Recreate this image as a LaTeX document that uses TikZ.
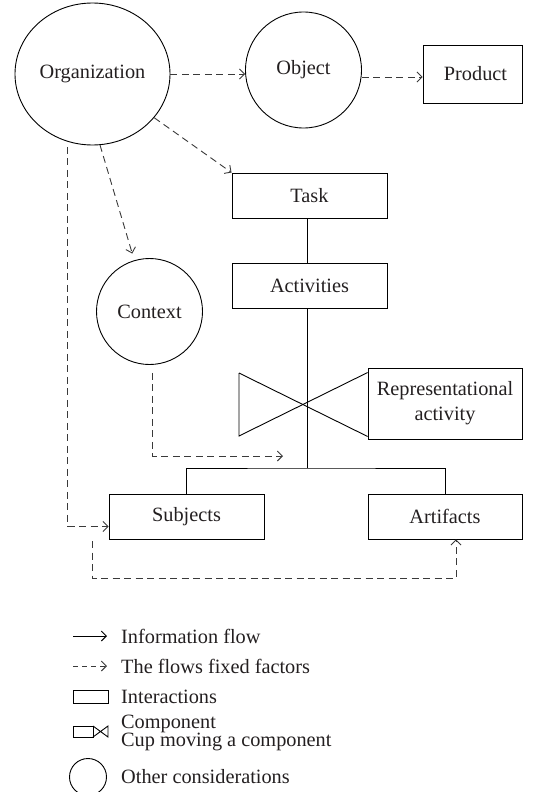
\documentclass[tikz,border=0pt]{standalone}
\usepackage{fontspec}
\setmainfont{Liberation Serif}
\usetikzlibrary{shapes.geometric,arrows.meta}
\definecolor{txt}{HTML}{231F20}
\definecolor{dashc}{HTML}{3A3A3A}
\begin{document}
\begin{tikzpicture}[x=1pt,y=-1pt,
  lbl/.style={font=\fontsize{20.3}{25}\selectfont, text=txt},
  box/.style={lbl, draw, line width=0.9pt, rectangle, inner sep=0pt, align=center},
  oval/.style={lbl, draw, line width=0.9pt, ellipse, inner sep=0pt},
  circ/.style={lbl, draw, line width=0.9pt, circle, inner sep=0pt},
  solidline/.style={draw, line width=0.9pt},
  flow/.style={draw=dashc, line width=0.9pt, dash pattern=on 7pt off 4.5pt, -{Straight Barb[length=5pt,width=10pt]}},
  infoarrow/.style={draw, line width=0.9pt, -{Straight Barb[length=5pt,width=10pt]}},
  legtext/.style={lbl, anchor=west, inner sep=0pt}
]
\useasboundingbox (0,0) rectangle (546,792);

% main nodes
\node[oval, minimum width=155pt, minimum height=142pt] (Org) at (92.5,74) {Organization};
\node[circ, minimum size=116pt] (Object) at (303.5,70) {Object};
\node[box, minimum width=99pt, minimum height=58pt] (Product) at (472.5,74) {\hspace*{6pt}Product};
\node[box, minimum width=155pt, minimum height=45pt] (Task) at (309.5,195.5) {Task};
\node[box, minimum width=155pt, minimum height=45pt] (Activities) at (309.5,285.5) {Activities};
\node[circ, minimum size=106pt] (Context) at (149.5,311.5) {Context};
\node[box, minimum width=154pt, minimum height=71pt] (Rep) at (445,403.5) {Representational\\activity};
\node[box, minimum width=155pt, minimum height=45pt] (Subjects) at (186.5,516.5) {Subjects};
\node[box, minimum width=154pt, minimum height=45pt] (Artifacts) at (445,516.5) {Artifacts};

% helper coordinates
\coordinate (hub) at (307,404);
\coordinate (bus) at (307,468);
\coordinate (bl1) at (239,373);
\coordinate (bl2) at (239,436);
\coordinate (oc) at (100,145);
\coordinate (ctip) at (283,456);
\coordinate (lp) at (92,541);
\coordinate (lpc) at (92,578);

% solid structure
\draw[solidline] (Task.south -| hub) -- (Activities.north -| hub);
\draw[solidline] (Activities.south -| hub) -- (bus);
\draw[solidline] (Subjects.north) |- (bus) -| (Artifacts.north);
\draw[solidline] (bl1) -- (bl2) -- ([yshift=-5pt]Rep.north west);
\draw[solidline] (bl1) -- ([yshift=3pt]Rep.south west);

% dashed flows
\draw[flow] (Org.east) -- (Org.east -| Object.west);
\draw[flow] ([yshift=-7pt]Object.east) -- ([yshift=-7pt]Object.east -| Product.west);
\draw[flow] (Org) -- (Task.north west);
\draw[flow, shorten >=7pt] (oc) -- (Context);
\draw[flow] ([yshift=-5pt]Org.250) |- ([yshift=-10pt]Subjects.west);
\draw[flow] ([xshift=3pt,yshift=-8pt]Context.south) |- (ctip);
\draw[flow] (lp) -- (lpc) -| ([xshift=11pt]Artifacts.south);

% legend
\draw[infoarrow] (73,636) -- (107,636);
\node[legtext] (l1) at (121,636) {Information flow};
\draw[flow, dash pattern=on 5pt off 4pt] (73,666) -- (107,666);
\node[legtext] (l2) at (121,666) {The flows fixed factors};
\draw[solidline] (73,690) rectangle (108,703);
\node[legtext] (l3) at (121,696.5) {Interactions};
\draw[solidline] (73,726) rectangle (93,737);
\draw[solidline] (93,726) -- (108,737) -- (108,726) -- (93,737);
\node[legtext, align=left, font=\fontsize{20.3}{12}\selectfont] (l4) at (121,733) {Component\\Cup moving a component};
\draw[solidline] (88,777) circle (18.5);
\node[legtext] (l6) at (121,777) {Other considerations};
\end{tikzpicture}
\end{document}
